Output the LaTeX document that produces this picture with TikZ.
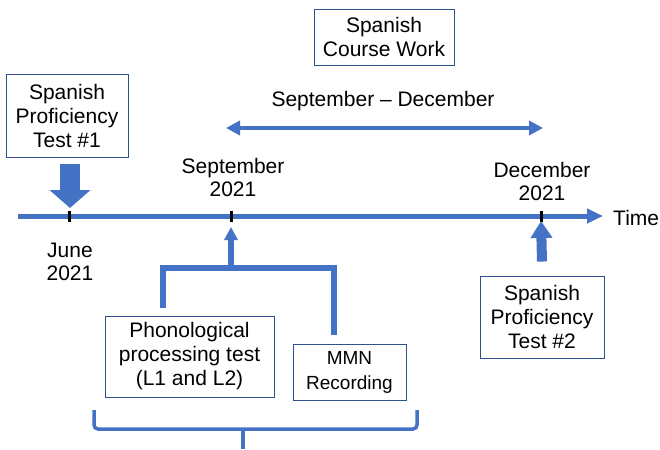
\documentclass[tikz,border=0pt]{standalone}
\usepackage{fontspec}
\setmainfont{Liberation Sans}
\usepackage{tikz}
\usetikzlibrary{shapes,arrows,arrows.meta}
\usepackage{xcolor}
\definecolor{arrowblue}{RGB}{68,114,196}
\definecolor{boxblue}{RGB}{47,82,143}

\begin{document}
\begin{tikzpicture}[x=1pt,y=-1pt,
					box/.style={draw=boxblue, line width=0.9pt, fill=white, align=center, inner sep=0pt, font=\fontsize{21}{24}\selectfont},
					label/.style={align=center, inner sep=0pt, font=\fontsize{21}{23}\selectfont},
					tick/.style={draw=black, line width=3pt},
					fat/.style={draw=arrowblue, line width=#1}]
    \useasboundingbox (0,0) rectangle (660,449);
    % Place nodes
    \node [box, minimum width=122, minimum height=83] (T1) at (67,115.5){Spanish\\Proficiency\\Test \#1};
    \node [box, minimum width=140, minimum height=56] (C) at (384,37){Spanish\\Course Work};
    \node [box, minimum width=124, minimum height=82] (T2) at (542,317){Spanish\\Proficiency\\Test \#2};
    \node [box, minimum width=169, minimum height=81] (P) at (189.5,356.5){Phonological\\processing test\\(L1 and L2)};
    \node [box, minimum width=113, minimum height=56, font=\fontsize{19}{25}\selectfont] (M) at (349.5,372){MMN\\Recording};
    \node [label] (span) at (383,101){September -- December};
    \node [label] (jun) at (70,262){June\\2021};
    \node [label] (sep) at (233,177){September\\2021};
    \node [label] (dec) at (542,181){December\\2021};
    \node [label, anchor=west] (time) at (613,218){Time};
    \coordinate (tjun) at (69,216);
    \coordinate (tsep) at (231,216);
    \coordinate (tdec) at (541,216);
    \coordinate (join) at (231,268);
    % Draw edges
    \draw[fat=5pt, -{Triangle[length=16pt,width=14pt]}] (18,216) -- ([xshift=-10pt]time.west |- tdec);
    \draw[tick] ([yshift=5pt]tjun) -- ([yshift=-6pt]tjun);
    \draw[tick] ([yshift=5pt]tsep) -- ([yshift=-6pt]tsep);
    \draw[tick] ([yshift=5pt]tdec) -- ([yshift=-6pt]tdec);
    \draw[fat=4pt, {Triangle[length=14pt,width=14pt]}-{Triangle[length=14pt,width=14pt]}] (226,128) -- (543,128);
    \draw[fat=20pt, -{Triangle[length=18pt,width=40pt]}] ([shift={(3,7)}]T1.south) -- ([shift={(1,-8)}]tjun);
    \draw[fat=10pt, -{Triangle[length=17pt,width=21pt]}] ([yshift=14pt]T2.north) -- ([yshift=-5pt]tdec);
    \draw[fat=6pt] ([shift={(-26.5,-8)}]P.north) |- (join) -| ([shift={(-15.5,-9)}]M.north);
    \draw[fat=6pt, -{Triangle[length=13pt,width=13pt]}] ([yshift=3pt]join) -- ([yshift=-11pt]tsep);
    \draw[fat=3.5pt, rounded corners=4pt] (94,410) -- (94,429) -- (417,429) -- (417,410);
    \draw[fat=3.5pt, rounded corners=3pt] (243,449) -- (243,429);
\end{tikzpicture}
\end{document}
